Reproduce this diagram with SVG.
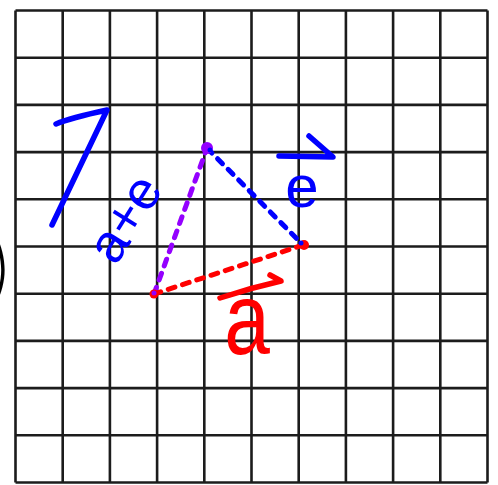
<svg xmlns="http://www.w3.org/2000/svg" width="498" height="485" viewBox="0 0 498 485">
<style>
.grid{stroke:#1c1c1c;stroke-width:2.6;fill:none}
.dash{fill:none;stroke-width:5;stroke-linecap:round;stroke-dasharray:7 8}
.ink{fill:none;stroke-width:5.5;stroke-linecap:round;stroke-linejoin:round}
.hand{font-family:"Liberation Sans",Arial,sans-serif}
</style>
<rect width="498" height="485" fill="#ffffff"/>
<g id="grid" class="grid">
<path d="M15.5 10.5V482.5M62.7 10.5V482.5M109.9 10.5V482.5M157.1 10.5V482.5M204.3 10.5V482.5M251.5 10.5V482.5M298.7 10.5V482.5M345.9 10.5V482.5M393.1 10.5V482.5M440.3 10.5V482.5M487.5 10.5V482.5"/>
<path d="M15.5 10.5H487.5M15.5 57.7H487.5M15.5 104.9H487.5M15.5 152.1H487.5M15.5 199.3H487.5M15.5 246.5H487.5M15.5 293.7H487.5M15.5 340.9H487.5M15.5 388.1H487.5M15.5 435.3H487.5M15.5 482.5H487.5"/>
</g>
<text id="paren" x="-12" y="294" font-size="76" font-weight="200" font-family="Inter,'Open Sans',sans-serif" fill="#000">)</text>
<g id="connectors">
<path class="dash" stroke="#9400ff" d="M154 294L207 148"/>
<path class="dash" stroke="#0000ff" d="M207 148L303 245"/>
<path class="dash" stroke="#ff0000" d="M154 294L303 245"/>
</g>
<g id="pointA">
<circle cx="154" cy="294" r="4.5" fill="#ff0000"/>
<circle cx="154" cy="293" r="2.5" fill="#9400ff"/>
</g>
<g id="pointB">
<circle cx="207" cy="148" r="6" fill="#9400ff"/>
<circle cx="210" cy="150" r="2.5" fill="#0000ff"/>
</g>
<g id="pointC">
<circle cx="304" cy="245" r="5" fill="#ff0000"/>
<circle cx="301" cy="243" r="2.5" fill="#0000ff"/>
</g>
<g id="labelSum">
<path class="ink" stroke="#0000ff" d="M56 124Q70 118 107 110L52 225"/>
<text class="hand" x="0" y="0" font-size="54" fill="#0000ff" text-anchor="middle" transform="translate(140 228) rotate(-58)">a+e</text>
</g>
<g id="labelE">
<path class="ink" stroke="#0000ff" d="M279 156L333 157L309 136"/>
<text class="hand" x="302" y="207" font-size="60" fill="#0000ff" text-anchor="middle">e</text>
</g>
<g id="labelA">
<path class="ink" stroke="#ff0000" d="M220 298Q250 288 281 281L270 275"/>
<text class="hand" x="0" y="0" font-size="82" fill="#ff0000" text-anchor="middle" transform="translate(247 354) scale(1 1.25)">a</text>
</g>
</svg>
